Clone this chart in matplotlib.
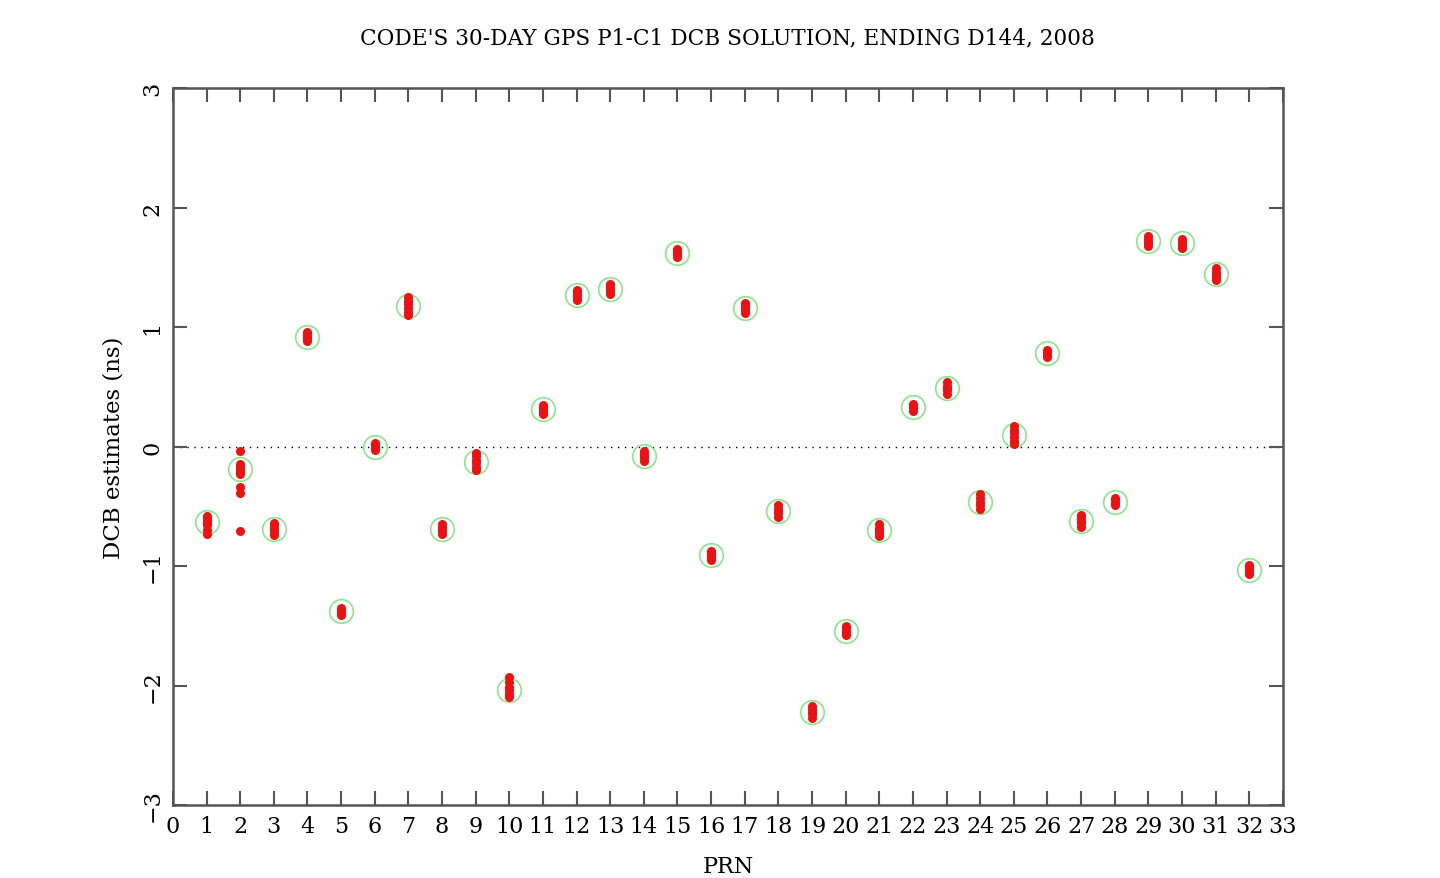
import numpy as np
import matplotlib.pyplot as plt

# PRN numbers and the 30-day mean DCB per satellite (ns)
prn = np.arange(1, 33)
dcb_mean = [-0.63, -0.19, -0.69, 0.92, -1.38, 0.00, 1.18, -0.69,
            -0.13, -2.04, 0.31, 1.27, 1.32, -0.08, 1.62, -0.91,
            1.16, -0.54, -2.22, -1.54, -0.70, 0.33, 0.49, -0.46,
            0.10, 0.78, -0.62, -0.46, 1.72, 1.70, 1.44, -1.03]

# daily estimates (overlapping dots thinned out)
daily = {
    1: [-0.58, -0.60, -0.62, -0.63, -0.64, -0.66, -0.70, -0.73],
    2: [-0.04, -0.15, -0.17, -0.19, -0.21, -0.23, -0.34, -0.39, -0.71],
    3: [-0.64, -0.66, -0.68, -0.70, -0.72, -0.74],
    4: [0.88, 0.90, 0.92, 0.94, 0.96],
    5: [-1.35, -1.37, -1.39, -1.41],
    6: [-0.03, -0.01, 0.01, 0.03],
    7: [1.10, 1.13, 1.16, 1.19, 1.22, 1.25],
    8: [-0.65, -0.67, -0.69, -0.71, -0.73],
    9: [-0.05, -0.08, -0.11, -0.14, -0.17, -0.20],
    10: [-1.93, -1.97, -2.01, -2.04, -2.07, -2.10],
    11: [0.27, 0.29, 0.31, 0.33, 0.35],
    12: [1.23, 1.25, 1.27, 1.29, 1.31],
    13: [1.28, 1.30, 1.32, 1.34, 1.36],
    14: [-0.12, -0.10, -0.08, -0.06, -0.04],
    15: [1.59, 1.61, 1.63, 1.65],
    16: [-0.95, -0.93, -0.91, -0.89, -0.87],
    17: [1.12, 1.14, 1.16, 1.18, 1.20],
    18: [-0.59, -0.56, -0.54, -0.52, -0.49],
    19: [-2.27, -2.24, -2.22, -2.20, -2.17],
    20: [-1.58, -1.56, -1.54, -1.52, -1.50],
    21: [-0.75, -0.72, -0.70, -0.68, -0.65],
    22: [0.30, 0.32, 0.34, 0.36],
    23: [0.44, 0.47, 0.49, 0.51, 0.54],
    24: [-0.52, -0.49, -0.46, -0.43, -0.40],
    25: [0.02, 0.05, 0.08, 0.11, 0.14, 0.17],
    26: [0.75, 0.77, 0.79, 0.81],
    27: [-0.67, -0.64, -0.62, -0.60, -0.57],
    28: [-0.49, -0.47, -0.45, -0.43],
    29: [1.68, 1.70, 1.72, 1.74, 1.76],
    30: [1.66, 1.68, 1.70, 1.72, 1.74],
    31: [1.39, 1.42, 1.44, 1.46, 1.49],
    32: [-1.07, -1.05, -1.03, -1.01, -0.99],
}

plt.rcParams['font.family'] = ['DejaVu Serif']

fig = plt.figure(figsize=(14.4, 8.79), dpi=100)
ax = fig.add_axes([0.1201, 0.083, 0.7708, 0.8157])

ax.axhline(0, color='black', linestyle=(0, (1, 4)), linewidth=1.0, zorder=1)

for p, vals in daily.items():
    ax.plot([p] * len(vals), vals, 'o', color='#ee1111', markersize=6.5,
            markeredgewidth=0, zorder=3)

ax.plot(prn, dcb_mean, 'o', markerfacecolor='none', markeredgecolor='#8ae68a',
        markersize=17, markeredgewidth=1.2, zorder=2)

ax.set_xlim(0, 33)
ax.set_ylim(-3, 3)
ax.set_xticks(range(0, 34))
ax.set_yticks(range(-3, 4))
ax.tick_params(direction='in', length=10, width=1.5, color='#555555',
               top=True, right=True, labelsize=16, pad=7)
for lab in ax.get_yticklabels():
    lab.set_rotation(90)
    lab.set_va('center')
for s in ax.spines.values():
    s.set_color('#555555')
    s.set_linewidth(1.8)

ax.set_xlabel('PRN', fontsize=16, labelpad=13)
ax.set_ylabel('DCB estimates (ns)', fontsize=16.5, labelpad=12)
ax.set_title("CODE'S 30-DAY GPS P1-C1 DCB SOLUTION, ENDING D144, 2008",
             fontsize=15.6, pad=32)

fig.savefig('out.png', dpi=100)
